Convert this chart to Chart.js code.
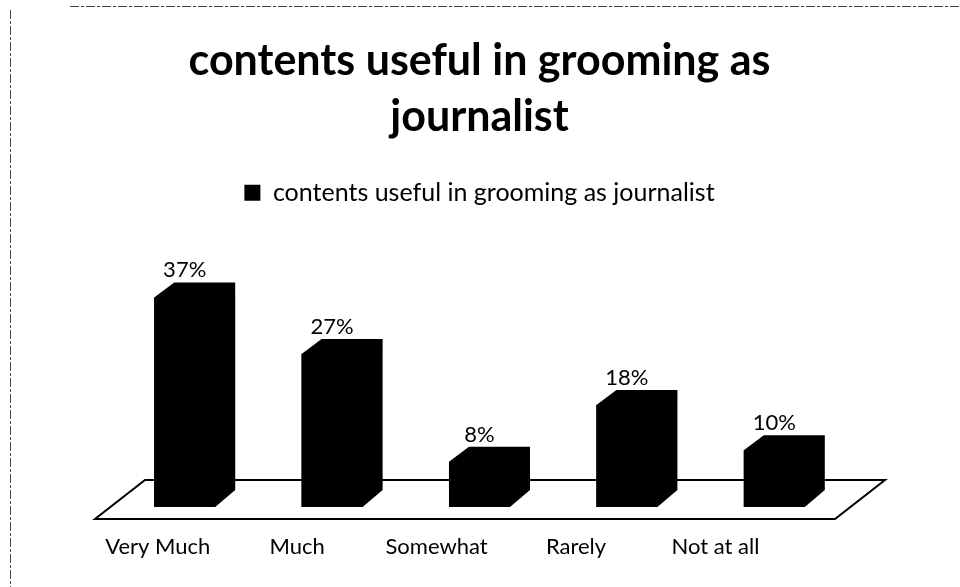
<!DOCTYPE html>
<html>
<head>
<meta charset="utf-8">
<script src="https://cdn.jsdelivr.net/npm/chart.js@4.4.1/dist/chart.umd.min.js"></script>
<style>
  html, body { margin: 0; padding: 0; background: #fff; }
  #wrap { position: relative; width: 960px; height: 587px; }
</style>
</head>
<body>
<div id="wrap"><canvas id="chart" width="960" height="587"></canvas></div>
<script>
const categories = ["Very Much", "Much", "Somewhat", "Rarely", "Not at all"];
const percentValues = [37, 27, 8, 18, 10];
const seriesName = "contents useful in grooming as journalist";
const chartTitle = ["contents useful in grooming as", "journalist"];

const FONT = "Lato, 'Open Sans', sans-serif";
const DEPTH_X = 20;
const DEPTH_Y = 15;
// category labels sit on the front edge of the floor, a little left of the bars
const LABEL_SHIFT = -27;
const LABEL_SCALE = 0.946;

// scanned-page frame along the top and left
const frame = {
  id: "frame",
  beforeDraw(chart) {
    const { ctx } = chart;
    ctx.save();
    ctx.strokeStyle = "#444";
    ctx.lineWidth = 1;
    ctx.setLineDash([9, 2, 3, 2]);
    ctx.beginPath();
    ctx.moveTo(70, 6.5);
    ctx.lineTo(960, 6.5);
    ctx.moveTo(10.5, 10);
    ctx.lineTo(10.5, 587);
    ctx.stroke();
    ctx.restore();
  }
};

// floor slab plus the top/side extrusion of each bar
const boxBars = {
  id: "boxBars",
  beforeDatasetsDraw(chart) {
    const { ctx, chartArea: a } = chart;
    ctx.save();
    ctx.beginPath();
    ctx.moveTo(a.left - 16, a.bottom + 12);
    ctx.lineTo(a.right - 13, a.bottom + 12);
    ctx.lineTo(a.right + 37, a.bottom - 27);
    ctx.lineTo(a.left + 34, a.bottom - 27);
    ctx.closePath();
    ctx.fillStyle = "#fff";
    ctx.fill();
    ctx.lineWidth = 2;
    ctx.strokeStyle = "#000";
    ctx.stroke();

    ctx.fillStyle = "#000";
    chart.getDatasetMeta(0).data.forEach((bar) => {
      const l = bar.x - bar.width / 2;
      const r = bar.x + bar.width / 2;
      ctx.beginPath();
      ctx.moveTo(l, bar.y);
      ctx.lineTo(l + DEPTH_X, bar.y - DEPTH_Y);
      ctx.lineTo(r + DEPTH_X, bar.y - DEPTH_Y);
      ctx.lineTo(r + DEPTH_X, bar.base - DEPTH_Y - 2);
      ctx.lineTo(r, bar.base);
      ctx.lineTo(l, bar.base);
      ctx.closePath();
      ctx.fill();
    });
    ctx.restore();
  },
  afterDatasetsDraw(chart) {
    const { ctx, chartArea: a } = chart;
    const meta = chart.getDatasetMeta(0);
    ctx.save();
    ctx.fillStyle = "#000";
    ctx.font = "22px " + FONT;
    ctx.textAlign = "center";
    ctx.textBaseline = "alphabetic";
    meta.data.forEach((bar, i) => {
      ctx.fillText(percentValues[i] + "%", bar.x, bar.y - DEPTH_Y - 5);
    });
    ctx.textBaseline = "middle";
    const x0 = meta.data[0].x;
    meta.data.forEach((bar, i) => {
      const lx = x0 + LABEL_SHIFT + (bar.x - x0) * LABEL_SCALE;
      ctx.fillText(categories[i], lx, a.bottom + 40);
    });
    ctx.restore();
  }
};

new Chart(document.getElementById("chart"), {
  type: "bar",
  data: {
    labels: categories,
    datasets: [{
      label: seriesName,
      data: percentValues,
      backgroundColor: "#000",
      borderWidth: 0,
      categoryPercentage: 1,
      barPercentage: 0.414
    }]
  },
  options: {
    responsive: false,
    animation: false,
    layout: { padding: { left: 111, right: 112, top: 0, bottom: 80 } },
    scales: {
      x: { display: false },
      y: { display: false, min: 0, max: 51.5 }
    },
    plugins: {
      title: {
        display: true,
        text: chartTitle,
        color: "#000",
        font: { family: FONT, size: 43, weight: "bold", lineHeight: 1.3 },
        padding: { top: 33, bottom: 17 }
      },
      legend: {
        display: true,
        labels: {
          color: "#000",
          boxWidth: 16,
          boxHeight: 16,
          padding: 18.5,
          font: { family: FONT, size: 25 }
        }
      },
      tooltip: { enabled: false }
    }
  },
  plugins: [frame, boxBars]
});
</script>
</body>
</html>
